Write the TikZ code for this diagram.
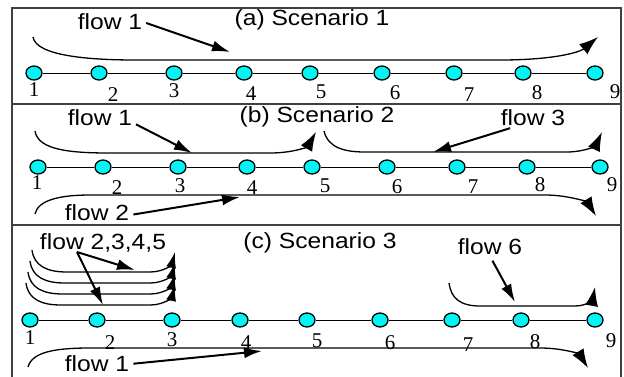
\documentclass[tikz,border=0pt]{standalone}
\usepackage{fontspec}
\newfontfamily\flowfont[FakeStretch=1.12]{Liberation Sans}
\newfontfamily\numfont{Liberation Serif}
\usetikzlibrary{arrows.meta,shapes.geometric}
\definecolor{routercyan}{RGB}{0,245,245}

\begin{document}
\begin{tikzpicture}[
    x=1pt, y=-1pt,
    % --- Styles ---
    router node/.style={ellipse, draw=black, line width=1.3pt, fill=routercyan,
        inner sep=0pt, minimum width=16pt, minimum height=14pt},
    num node/.style={font=\numfont\fontsize{21}{21}\selectfont, inner sep=0pt},
    text node/.style={font=\flowfont\fontsize{22}{22}\selectfont, inner sep=1pt},
    link line/.style={draw=black, line width=1pt},
    % the long flows
    flow line/.style={draw=black, line width=1.3pt, -{Latex[length=19pt,width=13pt]}},
    % small arrows from the flow names
    pointer/.style={draw=black, line width=2pt, shorten <=3pt, -{Latex[length=18pt,width=11pt]}},
    frame line/.style={draw=black!75, line width=1.4pt}
]
\useasboundingbox (0,0) rectangle (624,376);

%================FRAME================
\draw[frame line] (12,380) -- (12,8) -- (621,8) -- (621,380);
\draw[frame line] (12,104) -- (621,104);
\draw[frame line] (12,225) -- (621,225);

%================ROUTERS================
% x of router / x,y of its number
\foreach \x/\lx/\ly [count=\i] in {34/34/90, 99/113/95, 174/174/91, 244/251/94,
    310/321/92, 382/395/93, 454/469/95, 523/537/93, 595/615/92} {
    \node[router node] (a\i) at (\x,73) {};
    \node[num node] (la\i) at (\lx,\ly) {\i};
}
\foreach \x/\lx/\ly [count=\i] in {38/37/183, 103/117/188, 178/180/186, 247/252/188,
    312/325/186, 387/397/187, 457/473/187, 527/540/185, 600/612/185} {
    \node[router node] (b\i) at (\x,167) {};
    \node[num node] (lb\i) at (\lx,\ly) {\i};
}
\foreach \x/\lx/\ly [count=\i] in {30/30/338, 97/110/343, 172/172/340, 240/246/343,
    307/317/341, 380/390/343, 452/468/345, 521/535/342, 595/611/341} {
    \node[router node] (c\i) at (\x,320) {};
    \node[num node] (lc\i) at (\lx,\ly) {\i};
}

% links between neighbours
\foreach \p in {a,b,c} {
    \foreach \i [count=\j from 2] in {1,...,8} {
        \draw[link line] (\p\i) -- (\p\j);
    }
}

%================(a) SCENARIO 1================
\node[text node] (title a) at (312,20) {(a) Scenario 1};
\node[text node] (flow a1) at (110,22) {flow 1};
\coordinate (hit a1) at (230,52);
\draw[flow line] (33,37) .. controls (36,56) and (90,60) .. (135,60)
    -- (500,60) .. controls (555,60) and (580,52) .. (598,37);
\draw[pointer] (flow a1.east) -- (hit a1);

%================(b) SCENARIO 2================
\node[text node] (title b) at (317,117) {(b) Scenario 2};
\node[text node] (flow b1) at (100,118) {flow 1};
\node[text node] (flow b3) at (533,118) {flow 3};
\node[text node] (flow b2) at (97,213) {flow 2};
\coordinate (hit b1) at (192,153);
\coordinate (hit b3) at (433,152);
\coordinate (hit b2) at (240,197);

\draw[flow line] (35,131) .. controls (38,150) and (70,153) .. (110,153)
    -- (270,153) .. controls (295,153) and (308,146) .. (316,132);
\draw[flow line] (324,131) .. controls (328,148) and (345,152) .. (365,152)
    -- (567,152) .. controls (585,152) and (596,145) .. (602,132);
\draw[flow line] (35,214) .. controls (38,200) and (60,195) .. (90,195)
    -- (545,195) .. controls (570,195) and (588,203) .. (596,216);

\draw[pointer] ([yshift=-5pt]flow b1.east) -- (hit b1);
\draw[pointer] ([xshift=-20pt]flow b3.south) -- (hit b3);
\draw[pointer] ([yshift=-2pt]flow b2.east) -- (hit b2);

%================(c) SCENARIO 3================
\node[text node] (title c) at (320,243) {(c) Scenario 3};
\node[text node] (flow c25) at (103,243) {flow 2,3,4,5};
\node[text node] (flow c6) at (490,247) {flow 6};
\node[text node] (flow c1) at (97,364) {flow 1};
\coordinate (root c25) at (77,252);
\coordinate (hit c25a) at (135,270);
\coordinate (hit c25b) at (103,305);
\coordinate (hit c6) at (515,302);
\coordinate (hit c1) at (262,351);

% four short flows, stacked
\foreach \k in {0,...,3} {
    \pgfmathsetmacro{\xs}{32-2*\k}
    \pgfmathsetmacro{\ys}{250+11*\k}
    \pgfmathsetmacro{\yh}{272+11*\k}
    \draw[flow line, -{Latex[length=16pt,width=10pt]}] (\xs,\ys)
        .. controls (\xs+2,\yh-6) and (\xs+15,\yh) .. (\xs+35,\yh)
        -- (150,\yh) .. controls (164,\yh) and (172,\yh-8) .. (175,\yh-20);
}
\draw[flow line] (449,283) .. controls (451,298) and (460,306) .. (480,306)
    -- (575,306) .. controls (588,306) and (593,298) .. (595,287);
\draw[flow line] (28,367) .. controls (32,352) and (55,348) .. (90,348)
    -- (540,348) .. controls (565,348) and (580,355) .. (588,368);

\draw[pointer, shorten <=0pt] (root c25) -- (hit c25a);
\draw[pointer, shorten <=0pt] (root c25) -- (hit c25b);
\draw[pointer, shorten <=5pt] (flow c6.south) -- (hit c6);
\draw[pointer] (flow c1.east) -- (hit c1);

\end{tikzpicture}
\end{document}
